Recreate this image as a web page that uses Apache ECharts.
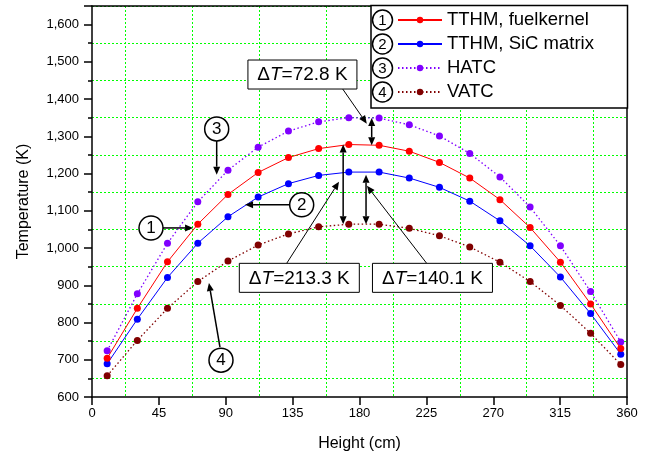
<!DOCTYPE html>
<html><head><meta charset="utf-8">
<script src="https://cdn.jsdelivr.net/npm/echarts@6/dist/echarts.min.js"></script>
<style>html,body{margin:0;padding:0;background:#fff}#c{width:653px;height:462px}</style>
</head><body><div id="c"></div>
<script>
// ---- data ----
const heights   = [10.2, 30.5, 50.8, 71.2, 91.5, 111.8, 132.2, 152.5, 172.8, 193.2, 213.5, 233.8, 254.2, 274.5, 294.8, 315.2, 335.5, 355.8];
const tthmFuel  = [704, 838, 963, 1064, 1144, 1203, 1243, 1267, 1278, 1276, 1260, 1230, 1188, 1130, 1055, 962, 850, 730];
const tthmSiC   = [689, 809, 921, 1013, 1084, 1137, 1173, 1195, 1204, 1204, 1188, 1163, 1126, 1073, 1006, 922, 824, 715];
const hatc      = [724, 877, 1013, 1124, 1209, 1271, 1314, 1339, 1350, 1349, 1331, 1301, 1254, 1191, 1110, 1006, 883, 748];
const vatc      = [657, 752, 838, 910, 965, 1008, 1038, 1057, 1064, 1064, 1053, 1033, 1003, 962, 910, 846, 771, 687];
const seriesNames = ['TTHM, fuelkernel', 'TTHM, SiC matrix', 'HATC', 'VATC'];
const xTickLabels = [0, 45, 90, 135, 180, 225, 270, 315, 360];
const yTickLabels = [600, 700, 800, 900, 1000, 1100, 1200, 1300, 1400, 1500, 1600];

// annotations (data coordinates)
const callouts = [
  {label: '1', center: [39.7, 1054], from: [47.8, 1054], to: [68, 1054]},
  {label: '2', center: [141.1, 1116], from: [132.6, 1116], to: [103, 1116]},
  {label: '3', center: [83.9, 1320], from: [83.9, 1288], to: [83.9, 1197]},
  {label: '4', center: [86.8, 699], from: [86.1, 734], to: [78.7, 906]}
];
const gaps = [
  {x: 169, top: 1278, bottom: 1064},
  {x: 184.4, top: 1197, bottom: 1064},
  {x: 188.2, top: 1349, bottom: 1276}
];
const boxes = [
  {value: '=72.8 K', center: [141.6, 1466], w: 109, from: [168.7, 1427], to: [184.9, 1334]},
  {value: '=213.3 K', center: [139.5, 920], w: 120, from: [131, 959], to: [166.2, 1178]},
  {value: '=140.1 K', center: [229.1, 920], w: 120, from: [225.2, 959], to: [185, 1167]}
];

const FF = 'Arial, "Liberation Sans", sans-serif';
const colors = ['#ff0000', '#0000ff', '#8000ff', '#800000'];
const allVals = [tthmFuel, tthmSiC, hatc, vatc];
const lineTypes = ['solid', 'solid', [1.5, 2.5], [1.5, 2.5]];

const chart = echarts.init(document.getElementById('c'));
const option = {
  animation: false,
  backgroundColor: '#fff',
  grid: {left: 92, right: 26, top: 6, bottom: 65, outerBoundsMode: 'none'},
  legend: {
    orient: 'vertical', left: 397, top: 10, padding: 0, itemGap: 4,
    itemWidth: 44, itemHeight: 8, z: 20, selectedMode: false,
    textStyle: {fontSize: 18.5, fontFamily: FF, color: '#000', lineHeight: 20},
    data: seriesNames
  },
  xAxis: [
    {
      type: 'value', min: 0, max: 360, interval: 45, position: 'bottom',
      axisLine: {onZero: false, lineStyle: {color: '#000', width: 1.5}},
      axisTick: {length: 8, lineStyle: {color: '#000', width: 1.5}},
      axisLabel: {fontSize: 13, fontFamily: FF, color: '#000', margin: 10,
        formatter: v => xTickLabels.includes(v) ? String(v) : ''},
      splitLine: {show: false},
      minorTick: {show: false, splitNumber: 2},
      minorSplitLine: {show: true, lineStyle: {color: '#00ff00', width: 1, type: [2, 2]}},
      name: 'Height (cm)', nameLocation: 'middle', nameGap: 39,
      nameTextStyle: {fontSize: 16, fontFamily: FF, color: '#000'}
    },
    {
      type: 'value', min: 0, max: 360, position: 'top',
      axisLine: {onZero: false, lineStyle: {color: '#000', width: 1.5}},
      axisTick: {show: false}, axisLabel: {show: false}, splitLine: {show: false}
    }
  ],
  yAxis: [
    {
      type: 'value', min: 600, max: 1650, interval: 100, position: 'left',
      axisLine: {onZero: false, lineStyle: {color: '#000', width: 1.5}},
      axisTick: {length: 8, lineStyle: {color: '#000', width: 1.5}},
      minorTick: {show: true, splitNumber: 2, length: 4, lineStyle: {color: '#000', width: 1.5}},
      axisLabel: {fontSize: 13, fontFamily: FF, color: '#000', margin: 13,
        formatter: v => yTickLabels.includes(v) ? v.toLocaleString('en-US') : ''},
      splitLine: {show: false},
      name: 'Temperature (K)', nameLocation: 'middle', nameGap: 60,
      nameTextStyle: {fontSize: 16, fontFamily: FF, color: '#000'}
    },
    {
      type: 'value', min: 600, max: 1650, interval: 50, position: 'right',
      axisLine: {onZero: false, lineStyle: {color: '#000', width: 1.5}},
      axisTick: {show: false}, axisLabel: {show: false},
      splitLine: {show: true, lineStyle: {color: ['rgba(0,0,0,0)', '#00ff00'], width: 1, type: [2, 2]}}
    }
  ],
  series: seriesNames.map((name, k) => ({
    name, type: 'line', xAxisIndex: 0, yAxisIndex: 0,
    data: heights.map((h, i) => [h, allVals[k][i]]),
    symbol: 'circle', symbolSize: 7,
    itemStyle: {color: colors[k]},
    lineStyle: {color: colors[k], width: k < 2 ? 1 : 1.3, type: lineTypes[k]},
    z: 5 - k
  }))
};
chart.setOption(option);

const P = p => chart.convertToPixel({xAxisIndex: 0, yAxisIndex: 0}, p);
function arrowHead(tip, from, len, hw) {
  const dx = tip[0] - from[0], dy = tip[1] - from[1], L = Math.hypot(dx, dy);
  const ux = dx / L, uy = dy / L;
  const bx = tip[0] - ux * len, by = tip[1] - uy * len;
  return {
    base: [bx, by],
    el: {type: 'polygon', z: 100, shape: {points: [[tip[0], tip[1]], [bx - uy * hw, by + ux * hw], [bx + uy * hw, by - ux * hw]]},
      style: {fill: '#000'}}
  };
}
function arrow(p0, p1, width, both) {
  const h1 = arrowHead(p1, p0, 8, 3.5);
  let start = p0;
  const els = [h1.el];
  if (both) { const h0 = arrowHead(p0, p1, 8, 3.5); start = h0.base; els.push(h0.el); }
  els.push({type: 'line', z: 100, shape: {x1: start[0], y1: start[1], x2: h1.base[0], y2: h1.base[1]},
    style: {stroke: '#000', lineWidth: width}});
  return els;
}
const g = [];
// legend frame
g.push({type: 'rect', z: 10, shape: {x: 371, y: 5.5, width: 256.5, height: 102.5},
  style: {fill: '#fff', stroke: '#000', lineWidth: 1.5}});
['1', '2', '3', '4'].forEach((t, i) => {
  const cy = 20 + i * 24;
  g.push({type: 'circle', z: 30, shape: {cx: 382.5, cy: cy, r: 10}, style: {fill: '#fff', stroke: '#000', lineWidth: 1.5}});
  g.push({type: 'text', z: 31, x: 382.5, y: cy + 0.5, style: {text: t, font: '15px ' + FF, fill: '#000', align: 'center', verticalAlign: 'middle'}});
});
// callouts
callouts.forEach(c => {
  const cp = P(c.center);
  g.push(...arrow(P(c.from), P(c.to), 1.5, false));
  g.push({type: 'circle', z: 101, shape: {cx: cp[0], cy: cp[1], r: 12}, style: {fill: '#fff', stroke: '#000', lineWidth: 1.5}});
  g.push({type: 'text', z: 102, x: cp[0], y: cp[1] + 0.5, style: {text: c.label, font: '17px ' + FF, fill: '#000', align: 'center', verticalAlign: 'middle'}});
});
// delta-T double arrows
gaps.forEach(d => { g.push(...arrow(P([d.x, d.top]), P([d.x, d.bottom]), 1.5, true)); });
// boxes with leaders
boxes.forEach(b => {
  g.push(...arrow(P(b.from), P(b.to), 1, false));
  const cp = P(b.center);
  g.push({type: 'rect', z: 101, shape: {x: cp[0] - b.w / 2, y: cp[1] - 14.5, width: b.w, height: 29},
    style: {fill: '#fff', stroke: '#000', lineWidth: 1}});
  g.push({type: 'text', z: 102, x: cp[0], y: cp[1] + 0.5, style: {
    text: '{a|Δ}{b|T}{a|' + b.value + '}', align: 'center', verticalAlign: 'middle',
    rich: {a: {fontSize: 19, fontFamily: FF, fill: '#000'}, b: {fontSize: 19, fontFamily: FF, fontStyle: 'italic', fill: '#000'}}
  }});
});
chart.setOption({graphic: g});
</script>
</body></html>
